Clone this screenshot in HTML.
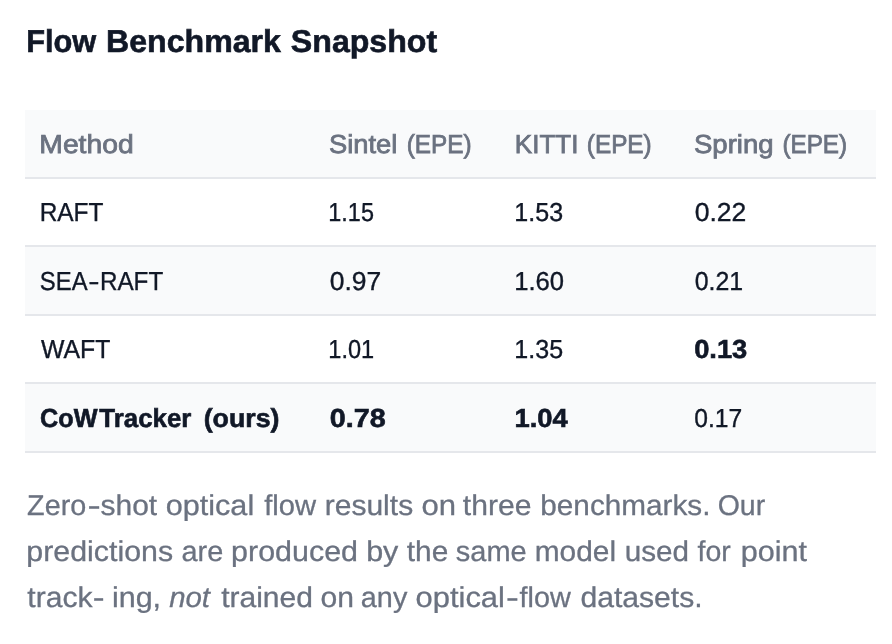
<!DOCTYPE html>
<html lang="en">
<head>
<meta charset="utf-8">
<title>Flow Benchmark Snapshot</title>
<style>
  html, body { margin: 0; padding: 0; background: #ffffff; }
  body { width: 892px; height: 644px; overflow: hidden; position: relative;
         font-family: "Liberation Sans", Arial, sans-serif; color: #111827;
         text-rendering: geometricPrecision; }
  span { white-space: nowrap; }
  span[id] { display: inline-block; transform-origin: 0 50%; }
  h2 { position: absolute; left: 0; top: 19px; margin: 0; font-size: 31.5px; line-height: 44px;
       font-weight: 700; color: #111827; white-space: nowrap; -webkit-text-stroke: 0.6px #111827; }
  table { position: absolute; left: 25px; top: 110px; width: 851px; border-collapse: separate; border-spacing: 0;
          table-layout: fixed; font-size: 26px; line-height: 30px; }
  th, td { text-align: left; padding: 0; box-sizing: content-box; border-bottom: 2px solid #e5e7eb;
           white-space: nowrap; vertical-align: middle; overflow: visible; }
  th { font-weight: 400; color: #6b7280; background: #f9fafb; height: 67px; }
  th span { -webkit-text-stroke: 0.8px #6b7280; }
  tr.r1 td, tr.r3 td { height: 66px; }
  tr.r2 td, tr.r4 td { height: 67px; }
  tr.alt td { background: #f9fafb; }
  td { -webkit-text-stroke: 0.35px #111827; }
  td.b { font-weight: 700; -webkit-text-stroke: 0.6px #111827; }
  td > div, th > div { position: relative; top: 0px; }
  p { position: absolute; left: 0; top: 482.6px; width: 892px; margin: 0; font-size: 28.6px;
      line-height: 46.1px; color: #6b7280; -webkit-text-stroke: 0.3px #6b7280; }
  p .ln { display: block; white-space: nowrap; }
</style>
</head>
<body>
<h2><span id="w0" style="transform:translate(26.28px,0px) scaleX(0.9752)">Flow</span> <span id="w1" style="transform:translate(24.98px,0px) scaleX(1.0199)">Benchmark</span> <span id="w2" style="transform:translate(29.87px,0px) scaleX(1.0193)">Snapshot</span></h2>
<table>
  <colgroup><col style="width:289px"><col style="width:186px"><col style="width:179px"><col style="width:197px"></colgroup>
  <thead>
    <tr><th><div><span id="w3" style="transform:translate(14.31px,0px) scaleX(1.0881)">Method</span></div></th><th><div><span id="w4" style="transform:translate(14.94px,0px) scaleX(1.0506)">Sintel</span> <span id="w5" style="transform:translate(20.77px,0px) scaleX(0.9357)">(EPE)</span></div></th><th><div><span id="w6" style="transform:translate(14.87px,0px) scaleX(1.0010)">KITTI</span> <span id="w7" style="transform:translate(15.82px,0px) scaleX(0.9353)">(EPE)</span></div></th><th><div><span id="w8" style="transform:translate(14.96px,0px) scaleX(1.0592)">Spring</span> <span id="w9" style="transform:translate(21.42px,0px) scaleX(0.9324)">(EPE)</span></div></th></tr>
  </thead>
  <tbody>
    <tr class="r1 "><td><div><span id="w10" style="transform:translate(14.64px,0px) scaleX(0.9400)">RAFT</span></div></td><td><div><span id="w11" style="transform:translate(14.35px,0px) scaleX(0.9001)">1.15</span></div></td><td><div><span id="w12" style="transform:translate(14.34px,0px) scaleX(0.9640)">1.53</span></div></td><td><div><span id="w13" style="transform:translate(15.64px,0px) scaleX(1.0215)">0.22</span></div></td></tr>
    <tr class="r2 alt"><td><div><span id="w14" style="transform:translate(14.86px,0px) scaleX(0.9160)">SEA</span><span id="w15" style="transform:translate(11.13px,0px) scaleX(1.3051)">-</span><span id="w16" style="transform:translate(13.90px,0px) scaleX(0.9327)">RAFT</span></div></td><td><div><span id="w17" style="transform:translate(15.68px,0px) scaleX(1.0175)">0.97</span></div></td><td><div><span id="w18" style="transform:translate(14.13px,0px) scaleX(0.9865)">1.60</span></div></td><td><div><span id="w19" style="transform:translate(15.65px,0px) scaleX(0.9570)">0.21</span></div></td></tr>
    <tr class="r3 "><td><div><span id="w20" style="transform:translate(15.94px,0px) scaleX(0.9552)">WAFT</span></div></td><td><div><span id="w21" style="transform:translate(14.32px,0px) scaleX(0.9060)">1.01</span></div></td><td><div><span id="w22" style="transform:translate(14.32px,0px) scaleX(0.9642)">1.35</span></div></td><td class=b><div><span id="w23" style="transform:translate(15.15px,0px) scaleX(1.0503)">0.13</span></div></td></tr>
    <tr class="r4 alt"><td class=b><div><span id="w24" style="transform:translate(15.11px,0px) scaleX(0.9711)">CoW</span><span id="w25" style="transform:translate(15.35px,0px) scaleX(0.9941)">Tracker</span> <span id="w26" style="transform:translate(19.64px,0px) scaleX(1.0302)">(ours)</span></div></td><td class=b><div><span id="w27" style="transform:translate(15.86px,0px) scaleX(1.1053)">0.78</span></div></td><td class=b><div><span id="w28" style="transform:translate(14.48px,0px) scaleX(1.0534)">1.04</span></div></td><td><div><span id="w29" style="transform:translate(15.22px,0px) scaleX(0.9479)">0.17</span></div></td></tr>
  </tbody>
</table>
<p><span class="ln"><span id="w30" style="transform:translate(27.10px,0px) scaleX(1.0054)">Zero</span><span id="w31" style="transform:translate(28.53px,0px) scaleX(1.3916)">-</span><span id="w32" style="transform:translate(32.55px,0px) scaleX(1.0478)">shot</span> <span id="w33" style="transform:translate(35.70px,0px) scaleX(1.0705)">optical</span> <span id="w34" style="transform:translate(43.19px,0px) scaleX(1.0208)">flow</span> <span id="w35" style="transform:translate(44.72px,0px) scaleX(1.0500)">results</span> <span id="w36" style="transform:translate(49.50px,0px) scaleX(1.0868)">on</span> <span id="w37" style="transform:translate(50.80px,0px) scaleX(1.0531)">three</span> <span id="w38" style="transform:translate(55.30px,0px) scaleX(1.0392)">benchmarks.</span> <span id="w39" style="transform:translate(61.64px,0px) scaleX(0.9974)">Our</span></span>
<span class="ln"><span id="w40" style="transform:translate(26.35px,0px) scaleX(1.0617)">predictions</span> <span id="w41" style="transform:translate(35.43px,0px) scaleX(1.0112)">are</span> <span id="w42" style="transform:translate(35.09px,0px) scaleX(1.0642)">produced</span> <span id="w43" style="transform:translate(43.14px,0px) scaleX(1.0664)">by</span> <span id="w44" style="transform:translate(45.74px,0px) scaleX(1.0440)">the</span> <span id="w45" style="transform:translate(46.81px,0px) scaleX(1.0131)">same</span> <span id="w46" style="transform:translate(48.65px,0px) scaleX(1.0449)">model</span> <span id="w47" style="transform:translate(52.64px,0px) scaleX(1.0374)">used</span> <span id="w48" style="transform:translate(55.57px,0px) scaleX(0.9958)">for</span> <span id="w49" style="transform:translate(56.69px,0px) scaleX(1.0690)">point</span></span>
<span class="ln"><span id="w50" style="transform:translate(27.37px,0px) scaleX(1.0522)">track</span><span id="w51" style="transform:translate(30.70px,0px) scaleX(1.2415)">-</span> <span id="w52" style="transform:translate(32.88px,0px) scaleX(1.0674)">ing,</span> <span id="w53" style="transform:translate(35.17px,0px) scaleX(1.0281)"><i>not</i></span> <span id="w54" style="transform:translate(40.15px,0px) scaleX(1.0504)">trained</span> <span id="w55" style="transform:translate(43.57px,0px) scaleX(1.0524)">on</span> <span id="w56" style="transform:translate(44.85px,0px) scaleX(1.0071)">any</span> <span id="w57" style="transform:translate(45.54px,0px) scaleX(1.0813)">optical</span><span id="w58" style="transform:translate(53.12px,0px) scaleX(1.3471)">-</span><span id="w59" style="transform:translate(56.59px,0px) scaleX(1.0068)">flow</span> <span id="w60" style="transform:translate(59.38px,0px) scaleX(1.0533)">datasets.</span></span>
</p>
</body>
</html>
